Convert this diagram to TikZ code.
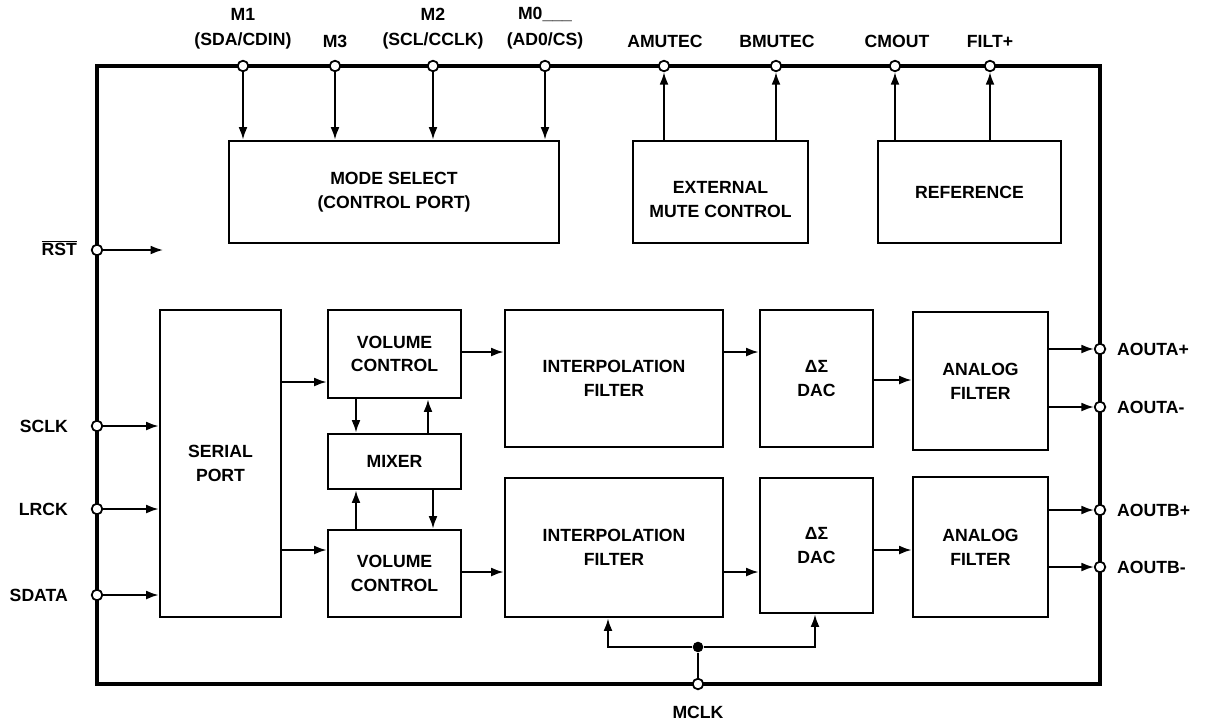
\documentclass[tikz,border=0pt]{standalone}
\usepackage{fontspec}
\setmainfont{Liberation Sans}
\usetikzlibrary{arrows.meta}
\tikzset{
  blk/.style={draw, line width=1.6pt, inner sep=0pt, align=center, font=\bfseries\fontsize{10}{13.5}\selectfont},
  bw/.style={minimum width=#1*0.5669pt},
  bh/.style={minimum height=#1*0.5669pt},
  arr/.style={-{Latex[length=7pt,width=5pt]}, line width=1pt},
  pinnode/.style={circle, draw, fill=white, line width=1pt, minimum size=6pt, inner sep=0pt},
  lbl/.style={font=\bfseries\fontsize{10}{12}\selectfont, inner sep=1pt},
  junction/.style={circle, fill=black, minimum size=6pt, inner sep=0pt}
}
\begin{document}
\begin{tikzpicture}[x=0.5669pt,y=-0.5669pt]
\useasboundingbox (0,0) rectangle (1205,726);
% outer frame
\draw[line width=2.6pt] (97,66) rectangle (1100,684);

% blocks (center, width, height in px)
\node[blk, bw=330, bh=102] (mode) at (394,192) {MODE SELECT\\(CONTROL PORT)};
\node[blk, bw=175, bh=102] (ext) at (720.5,192) {\rule{0pt}{8pt}\\[-6pt]EXTERNAL\\MUTE CONTROL};
\node[blk, bw=183, bh=102] (ref) at (969.5,192) {REFERENCE};
\node[blk, bw=121, bh=307] (sp) at (220.5,463.5) {SERIAL\\PORT};
\node[blk, bw=133, bh=88] (vc1) at (394.5,354) {VOLUME\\CONTROL};
\node[blk, bw=133, bh=55] (mix) at (394.5,461.5) {MIXER};
\node[blk, bw=133, bh=87] (vc2) at (394.5,573.5) {VOLUME\\CONTROL};
\node[blk, bw=218, bh=137] (if1) at (614,378.5) {INTERPOLATION\\FILTER};
\node[blk, bw=218, bh=139] (if2) at (614,547.5) {INTERPOLATION\\FILTER};
\node[blk, bw=113, bh=137] (dac1) at (816.5,378.5) {ΔΣ\\DAC};
\node[blk, bw=113, bh=135] (dac2) at (816.5,545.5) {ΔΣ\\DAC};
\node[blk, bw=135, bh=138] (af1) at (980.5,381) {ANALOG\\FILTER};
\node[blk, bw=135, bh=140] (af2) at (980.5,547) {ANALOG\\FILTER};

% pins
\node[pinnode] (pM1) at (243,66) {};
\node[pinnode] (pM3) at (335,66) {};
\node[pinnode] (pM2) at (433,66) {};
\node[pinnode] (pM0) at (545,66) {};
\node[pinnode] (pAM) at (664,66) {};
\node[pinnode] (pBM) at (776,66) {};
\node[pinnode] (pCM) at (895,66) {};
\node[pinnode] (pFI) at (990,66) {};
\node[pinnode] (pRST) at (97,250) {};
\node[pinnode] (pSCLK) at (97,426) {};
\node[pinnode] (pLRCK) at (97,509) {};
\node[pinnode] (pSDATA) at (97,595) {};
\node[pinnode] (pAAp) at (1100,349) {};
\node[pinnode] (pAAm) at (1100,407) {};
\node[pinnode] (pABp) at (1100,510) {};
\node[pinnode] (pABm) at (1100,567) {};
\node[pinnode] (pMCLK) at (698,684) {};

% labels
\node[lbl] (tM1a) at (243,14) {M1};
\node[lbl] (tM1b) at (243,41) {(SDA/CDIN)};
\node[lbl] (tM3) at (335,41) {M3};
\node[lbl] (tM2a) at (433,14) {M2};
\node[lbl] (tM2b) at (433,41) {(SCL/CCLK)};
\node[lbl] (tM0a) at (545,14) {M0\_\_\_};
\node[lbl] (tM0b) at (545,41) {(AD0/CS)};
\node[lbl] (tAM) at (665,41) {AMUTEC};
\node[lbl] (tBM) at (777,41) {BMUTEC};
\node[lbl] (tCM) at (897,41) {CMOUT};
\node[lbl] (tFI) at (990,41) {FILT+};
\node[lbl, anchor=east] (tRST) at (79,248) {$\overline{\hbox{\bfseries RST}}$};
\node[lbl, anchor=east] (tSCLK) at (70,426) {SCLK};
\node[lbl, anchor=east] (tLRCK) at (70,509) {LRCK};
\node[lbl, anchor=east] (tSDATA) at (70,595) {SDATA};
\node[lbl, anchor=west] (tAAp) at (1115,349) {AOUTA+};
\node[lbl, anchor=west] (tAAm) at (1115,407) {AOUTA-};
\node[lbl, anchor=west] (tABp) at (1115,510) {AOUTB+};
\node[lbl, anchor=west] (tABm) at (1115,567) {AOUTB-};
\node[lbl] (tMCLK) at (698,712) {MCLK};

% top connectors
\draw[arr] (pM1) -- (pM1 |- mode.north);
\draw[arr] (pM3) -- (pM3 |- mode.north);
\draw[arr] (pM2) -- (pM2 |- mode.north);
\draw[arr] (pM0) -- (pM0 |- mode.north);
\draw[arr] (pAM |- ext.north) -- (pAM);
\draw[arr] (pBM |- ext.north) -- (pBM);
\draw[arr] (pCM |- ref.north) -- (pCM);
\draw[arr] (pFI |- ref.north) -- (pFI);

% left connectors
\coordinate (rstend) at (163,250);
\draw[arr] (pRST) -- (rstend);
\draw[arr] (pSCLK) -- (pSCLK -| sp.west);
\draw[arr] (pLRCK) -- (pLRCK -| sp.west);
\draw[arr] (pSDATA) -- (pSDATA -| sp.west);

% serial port to volume controls
\coordinate (y382) at (0,382);
\coordinate (y550) at (0,550);
\draw[arr] (sp.east |- y382) -- (vc1.west |- y382);
\draw[arr] (sp.east |- y550) -- (vc2.west |- y550);

% mixer connectors
\coordinate (x356) at (356,0);
\coordinate (x428) at (428,0);
\coordinate (x433) at (433,0);
\draw[arr] (x356 |- vc1.south) -- (x356 |- mix.north);
\draw[arr] (x428 |- mix.north) -- (x428 |- vc1.south);
\draw[arr] (x356 |- vc2.north) -- (x356 |- mix.south);
\draw[arr] (x433 |- mix.south) -- (x433 |- vc2.north);

% signal chain
\coordinate (y352) at (0,352);
\coordinate (y572) at (0,572);
\coordinate (y380) at (0,380);
\draw[arr] (vc1.east |- y352) -- (if1.west |- y352);
\draw[arr] (if1.east |- y352) -- (dac1.west |- y352);
\draw[arr] (dac1.east |- y380) -- (af1.west |- y380);
\draw[arr] (vc2.east |- y572) -- (if2.west |- y572);
\draw[arr] (if2.east |- y572) -- (dac2.west |- y572);
\draw[arr] (dac2.east |- y550) -- (af2.west |- y550);

% outputs
\draw[arr] (af1.east |- pAAp) -- (pAAp);
\draw[arr] (af1.east |- pAAm) -- (pAAm);
\draw[arr] (af2.east |- pABp) -- (pABp);
\draw[arr] (af2.east |- pABm) -- (pABm);

% MCLK distribution
\node[junction] (jn) at (698,647) {};
\draw[line width=1pt] (pMCLK) -- (jn);
\coordinate (x608) at (608,0);
\coordinate (x815) at (815,0);
\draw[arr] (jn) -| (x608 |- if2.south);
\draw[arr] (jn) -| (x815 |- dac2.south);
\end{tikzpicture}
\end{document}
